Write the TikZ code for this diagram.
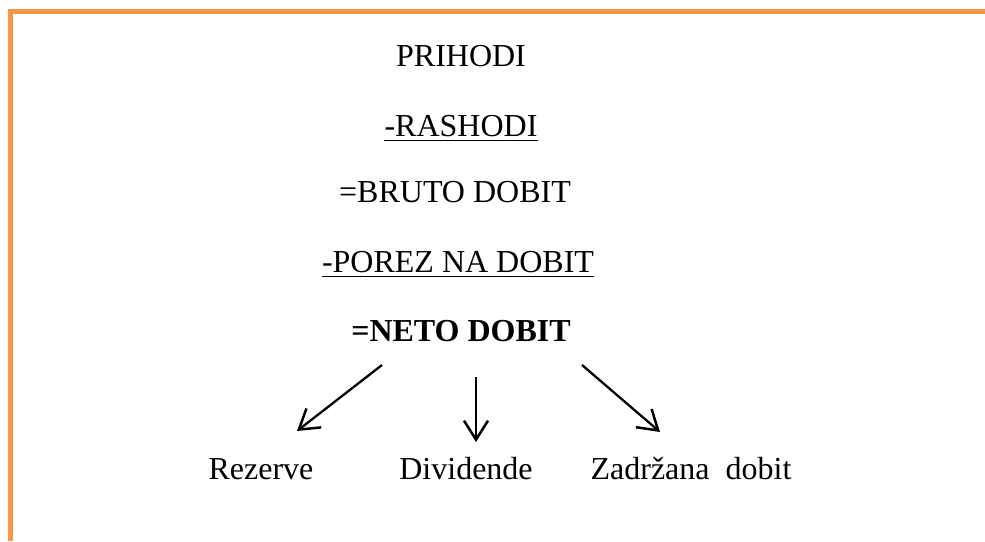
\documentclass[tikz,border=0pt]{standalone}
\usepackage{fontspec}
\setmainfont{Liberation Serif}
\usetikzlibrary{arrows.meta}
\definecolor{borderorange}{HTML}{F79646}
\begin{document}
\begin{tikzpicture}[x=1pt,y=-1pt,
  txt/.style={anchor=base,inner sep=0pt,font=\fontsize{32}{38}\selectfont},
  ul/.style={line width=1.8pt},
  arr/.style={line width=2.3pt,-{Straight Barb[length=19pt,width=24pt,line width=2.5pt]}}]
\useasboundingbox (0,0) rectangle (985,541);
\draw[borderorange,line width=5pt] (985,11.5) -- (10,11.5) -- (10,541);
\node[txt] (prihodi) at (461,66) {PRIHODI};
\node[txt] (rashodi) at (461,136) {-RASHODI};
\node[txt] (bruto) at (455,202) {=BRUTO DOBIT};
\node[txt] (porez) at (458,272) {-POREZ NA DOBIT};
\node[txt] (neto) at (461,341) {\bfseries =NETO DOBIT};
\node[txt] (rez) at (261,479) {Rezerve};
\node[txt] (div) at (466,479) {Dividende};
\node[txt] (zad) at (691,479) {Zadržana\ \ dobit};
\draw[ul] ([yshift=-4.5pt]rashodi.base west) -- ([yshift=-4.5pt]rashodi.base east);
\draw[ul] ([yshift=-4.5pt]porez.base west) -- ([yshift=-4.5pt]porez.base east);
\coordinate (s1) at (382,365);
\coordinate (e1) at (297,431);
\coordinate (s2) at (476,377);
\coordinate (e2) at (476,442);
\coordinate (s3) at (582,365);
\coordinate (e3) at (660,432);
\draw[arr] (s1) -- (e1);
\draw[arr] (s2) -- (e2);
\draw[arr] (s3) -- (e3);
\end{tikzpicture}
\end{document}
